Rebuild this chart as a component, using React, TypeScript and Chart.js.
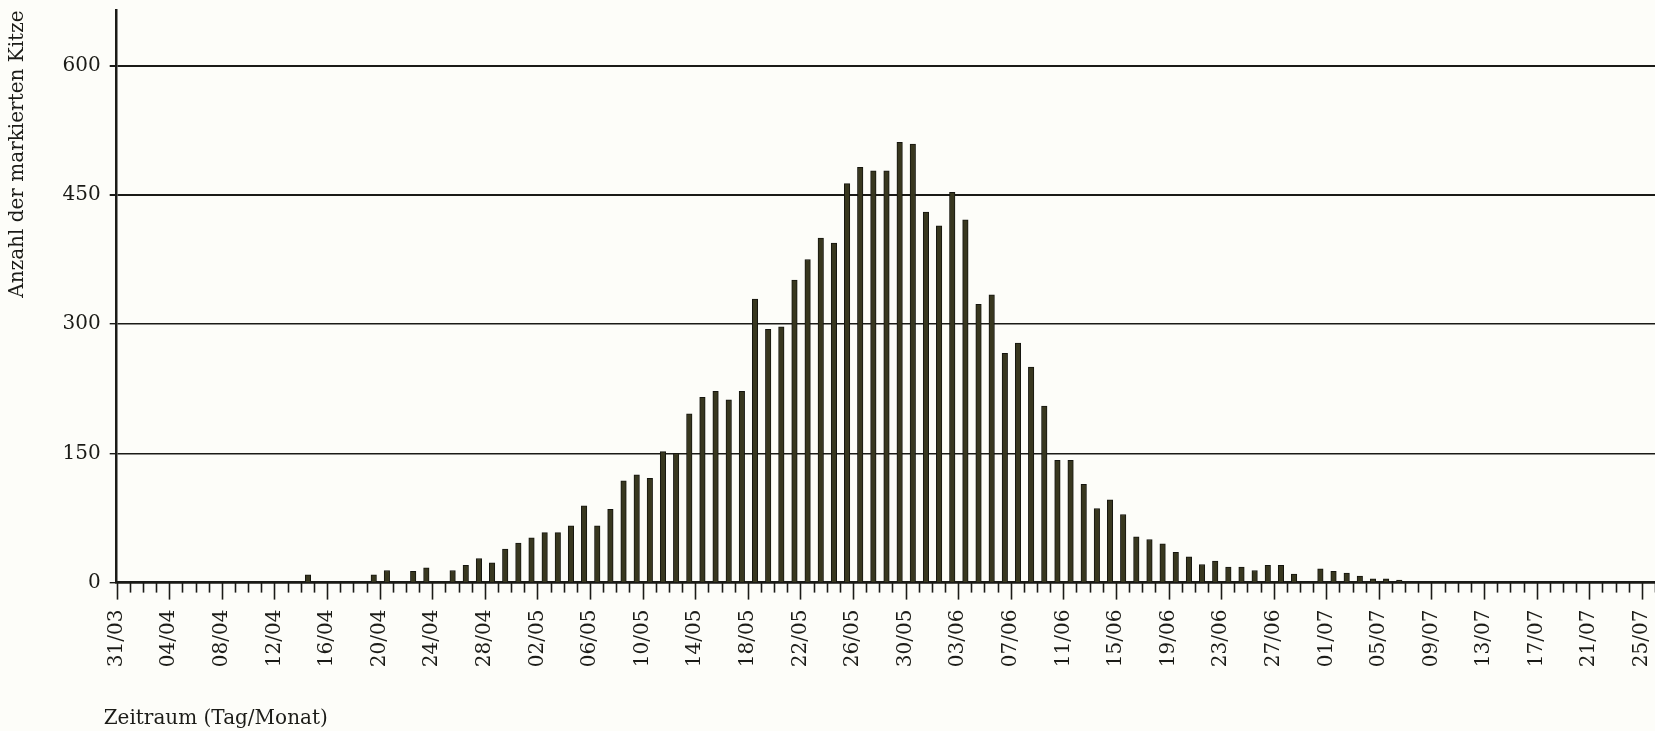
import React, { useEffect, useRef } from "react";
import { Chart, registerables } from "chart.js";

Chart.register(...registerables);

// Tick labels, one every 4 days starting 31/03
const tickLabels = [
  "31/03", "04/04", "08/04", "12/04", "16/04", "20/04", "24/04", "28/04",
  "02/05", "06/05", "10/05", "14/05", "18/05", "22/05", "26/05", "30/05",
  "03/06", "07/06", "11/06", "15/06", "19/06", "23/06", "27/06", "01/07",
  "05/07", "09/07", "13/07", "17/07", "21/07", "25/07",
];

const yTicks = [0, 150, 300, 450, 600];

// Number of marked fawns per day, day 0 = 31/03 ... day 117 = 26/07
const kitzePerDay = [
  0, 0, 0, 0, 0, 0, 0, 0, 0, 0, // 31/03 - 09/04
  0, 0, 0, 0, 9, 0, 0, 0, 0, 9, // 10/04 - 19/04
  14, 0, 13, 17, 0, 14, 20, 28, 23, 39, // 20/04 - 29/04
  46, 52, 58, 58, 66, 89, 66, 85, 118, 125, // 30/04 - 09/05
  121, 152, 150, 196, 215, 222, 212, 222, 329, 294, // 10/05 - 19/05
  297, 351, 375, 400, 394, 463, 482, 478, 478, 511, // 20/05 - 29/05
  509, 430, 414, 453, 421, 323, 334, 266, 278, 250, // 30/05 - 08/06
  205, 142, 142, 114, 86, 96, 79, 53, 50, 45, // 09/06 - 18/06
  35, 30, 21, 25, 18, 18, 14, 20, 20, 10, // 19/06 - 28/06
  0, 16, 13, 11, 7.5, 4.5, 4.5, 3, 0, 0, // 29/06 - 08/07
  0, 0, 0, 0, 0, 0, 0, 0, 0, 0, // 09/07 - 18/07
  0, 0, 0, 0, 0, 0, 0, 0, // 19/07 - 26/07
];

const yTitle = "Anzahl der markierten Kitze";
const xTitle = "Zeitraum (Tag/Monat)";

const FONT = "'DejaVu Serif', 'Liberation Serif', serif";
const BAR_OFFSET = 0.55;
const LAST_DAY = kitzePerDay.length - 1;
const Y_MAX = 664;
const INK = "#1b1b17";

const tickMarks = {
  id: "tickMarks",
  afterDatasetsDraw(chart: any) {
    const xs = chart.scales.x;
    const ctx = chart.ctx;
    const y0 = chart.chartArea.bottom;
    ctx.save();
    ctx.strokeStyle = INK;
    ctx.lineWidth = 1.6;
    for (let i = 0; i <= LAST_DAY; i++) {
      const px = Math.round(xs.getPixelForValue(i)) + 0.5;
      const len = i % 4 === 0 ? 17 : 10;
      ctx.beginPath();
      ctx.moveTo(px, y0);
      ctx.lineTo(px, y0 + len);
      ctx.stroke();
    }
    // x-axis title, placed slightly left of the plot's left edge as in the original
    ctx.fillStyle = INK;
    ctx.font = `20px ${FONT}`;
    ctx.textAlign = "left";
    ctx.textBaseline = "middle";
    ctx.fillText(xTitle, chart.chartArea.left - 13, chart.height - 12);
    ctx.restore();
  },
};

export default function App() {
  const canvasRef = useRef<HTMLCanvasElement | null>(null);

  useEffect(() => {
    const canvas = canvasRef.current;
    if (!canvas) return;
    const points = kitzePerDay
      .map((v, i) => ({ x: i + BAR_OFFSET, y: v }))
      .filter((p) => p.y > 0);

    const chart = new Chart(canvas, {
      type: "bar",
      data: {
        datasets: [
          {
            label: yTitle,
            data: points as any,
            backgroundColor: "#38371f",
            borderColor: "#15150f",
            borderWidth: 1,
            barThickness: 5.5,
          },
        ],
      },
      options: {
        animation: false,
        responsive: false,
        devicePixelRatio: 1,
        layout: { padding: { top: 10.5, left: 0, right: 0, bottom: 0 } },
        plugins: {
          legend: { display: false },
          tooltip: { enabled: false },
        },
        scales: {
          x: {
            type: "linear",
            min: 0,
            max: LAST_DAY,
            offset: false,
            grid: { display: true, drawOnChartArea: false, drawTicks: false },
            border: { display: true, color: INK, width: 2.5 },
            afterBuildTicks: (s: any) => {
              s.ticks = kitzePerDay.map((_, i) => ({ value: i }));
            },
            afterFit: (s: any) => {
              s.height = 731 - 582.6;
              s.paddingLeft = 0;
              s.paddingRight = 0;
            },
            ticks: {
              autoSkip: false,
              stepSize: 1,
              minRotation: 90,
              maxRotation: 90,
              padding: 27,
              color: INK,
              font: { family: FONT, size: 20 },
              callback: (v: any) =>
                Number.isInteger(v) && v % 4 === 0 ? tickLabels[v / 4] ?? "" : "",
            },
          },
          y: {
            min: 0,
            max: Y_MAX,
            afterBuildTicks: (s: any) => {
              s.ticks = yTicks.map((v) => ({ value: v }));
            },
            afterFit: (s: any) => {
              s.width = 116.7;
              s.paddingTop = 0;
              s.paddingBottom = 0;
            },
            grid: {
              color: INK,
              lineWidth: (c: any) => (c.tick && c.tick.value >= 450 ? 2 : 1.4),
              tickLength: 7,
            },
            border: { display: true, color: INK, width: 2.5 },
            ticks: {
              padding: 9,
              color: INK,
              font: { family: FONT, size: 20 },
            },
            title: {
              display: true,
              text: yTitle,
              align: "end",
              color: INK,
              font: { family: FONT, size: 20 },
              padding: { top: 6, bottom: 0 },
            },
          },
        },
      },
      plugins: [tickMarks],
    });
    return () => chart.destroy();
  }, []);

  return (
    <div
      style={{
        position: "fixed",
        left: 0,
        top: 0,
        width: 1655,
        height: 731,
        background: "#fdfdf9",
      }}
    >
      <canvas ref={canvasRef} width={1655} height={731} style={{ display: "block" }} />
    </div>
  );
}
